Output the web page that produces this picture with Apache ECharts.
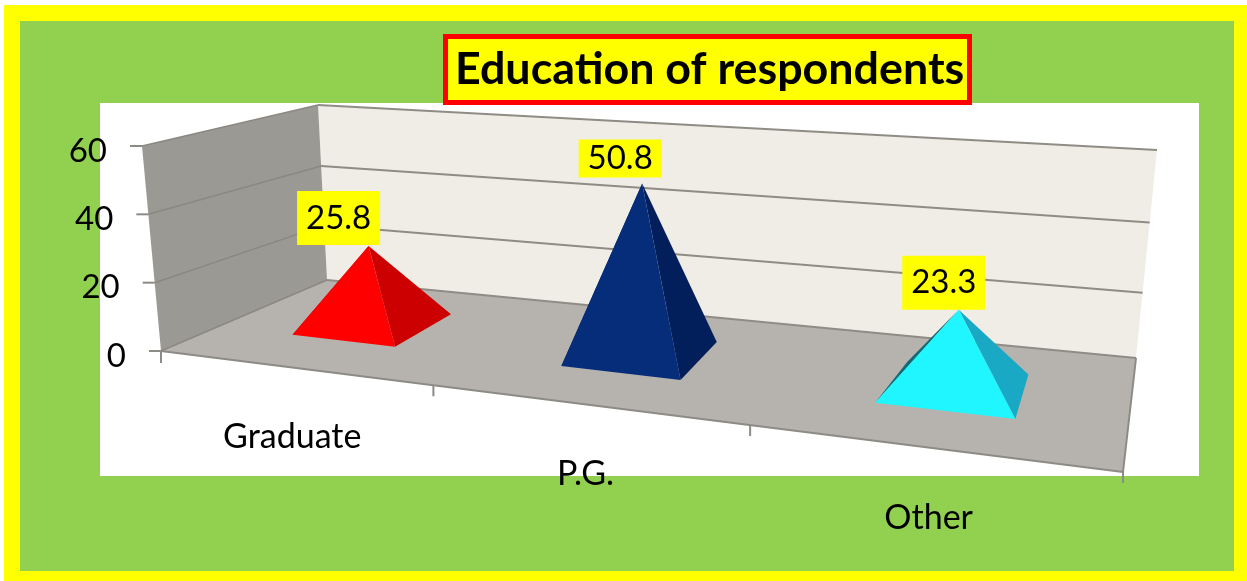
<!DOCTYPE html>
<html>
<head>
<meta charset="utf-8">
<title>Education of respondents</title>
<style>
  html, body { margin: 0; padding: 0; background: #fff; }
  #chart { width: 1247px; height: 581px; }
</style>
<script src="https://cdn.jsdelivr.net/npm/echarts@6/dist/echarts.min.js"></script>
</head>
<body>
<div id="chart"></div>
<script>
// chart data
var categories = ['Graduate', 'P.G.', 'Other'];
var values = [25.8, 50.8, 23.3];
var yTicks = [0, 20, 40, 60];

// pyramid colours, one per category
var frontColors = ['#ff0000', '#062d7a', '#1ff6ff'];
var rightColors = ['#cc0000', '#021f5c', '#19a9c4'];
var leftColors = ['#a80000', '#021f5c', '#136a75'];

// label box placement relative to the pyramid tip
var labelShiftX = [-30, -22, -15];
var labelShiftY = [-1, -6, 0];
var labelBoxH = [54, 38, 54];
var labelBoxW = 83;

// corners of the 3d box as it lands on the page
var FL = [161, 351], FR = [1123, 472], BL = [327, 280], BR = [1136, 358];
var FLt = [142, 146], FRt = [1150, 228], BLt = [318, 105], BRt = [1157, 150];

var gridLeft = 161, gridWidth = 962, gridTop = 146, gridHeight = 205;
var pyramidHalf = 0.0665;   // half base width, in x axis fraction
var depthNear = 0.35, depthFar = 0.76, depthTip = 0.55;
var textFont = '33px Lato';

function lerp(a, b, t) {
  return [a[0] + (b[0] - a[0]) * t, a[1] + (b[1] - a[1]) * t];
}
// the picture has perspective: the x axis gets wider to the right
function warp(u) {
  return 0.79 * u / (1 - 0.21 * u);
}
// u: along x axis (0..1), v: depth (0..1), t: height (0..1)
function project(u, v, t) {
  var w = warp(u);
  var floor = lerp(lerp(FL, FR, w), lerp(BL, BR, w), v);
  var top = lerp(lerp(FLt, FRt, w), lerp(BLt, BRt, w), v);
  // heights squeeze a little towards the back of the box
  return lerp(floor, top, Math.pow(t, 1 + 0.056 * Math.min(v / 0.5, 1)));
}
// turn axis values to fractions with the hidden grid's scales
function xFrac(api, idx) {
  return (api.coord([idx, 0])[0] - gridLeft) / gridWidth;
}
function yFrac(api, val) {
  return (gridTop + gridHeight - api.coord([0, val])[1]) / gridHeight;
}
function poly(points, fill) {
  return { type: 'polygon', shape: { points: points }, style: { fill: fill } };
}
function line(a, b, color, width) {
  return {
    type: 'line',
    shape: { x1: a[0], y1: a[1], x2: b[0], y2: b[1] },
    style: { stroke: color, lineWidth: width }
  };
}
function text(str, x, y, align, font) {
  return {
    type: 'text',
    style: { text: str, x: x, y: y, align: align, verticalAlign: 'middle', fill: '#000', font: font || textFont }
  };
}

function renderWalls() {
  var edge = '#8d8b85';
  return {
    type: 'group',
    children: [
      poly([BLt, BRt, BR, BL], '#efede5'),
      poly([FLt, BLt, BL, FL], '#9b9993'),
      poly([FL, BL, BR, FR], '#b6b3ae'),
      line(FL, FR, edge, 2),
      line(BR, FR, edge, 2),
      line(FL, [FL[0], FL[1] + 12], edge, 2)
    ]
  };
}

function renderTick(params, api) {
  var val = api.value(1);
  var t = yFrac(api, val);
  var front = project(0, 0, t), back = project(0, 1, t), right = project(1, 1, t);
  return {
    type: 'group',
    children: [
      line(front, back, '#8a8880', 1.5),
      line(back, right, '#8f8c85', 2),
      line([front[0] - 12, front[1]], front, '#8d8b85', 2),
      text(String(val), front[0] - 35, front[1] + 5, 'right')
    ]
  };
}

function renderCategory(params, api) {
  var i = api.value(0);
  var p = project(xFrac(api, i), 0, 0);
  // tick at the right end of this category's band
  var e = project((i + 1) / categories.length, 0, 0);
  return {
    type: 'group',
    children: [
      line(e, [e[0], e[1] + 11], '#8d8b85', 2),
      text(categories[i], p[0], p[1] + 70, 'center', '34px Lato')
    ]
  };
}

function renderPyramid(params, api) {
  var i = api.value(0);
  var u = xFrac(api, i);
  var t = yFrac(api, api.value(1));
  var fl = project(u - pyramidHalf, depthNear, 0);
  var fr = project(u + pyramidHalf, depthNear, 0);
  var br = project(u + pyramidHalf, depthFar, 0);
  // back corner pulled in a bit, only the thin strip on Other shows it
  var bl = project(u - pyramidHalf * 0.85, depthFar, 0);
  var tip = project(u, depthTip, t);
  var bx = tip[0] + labelShiftX[i], bottom = tip[1] + labelShiftY[i];
  return {
    type: 'group',
    children: [
      poly([fl, bl, tip], leftColors[i]),
      poly([fr, br, tip], rightColors[i]),
      poly([fl, fr, tip], frontColors[i]),
      {
        type: 'rect',
        shape: { x: bx - labelBoxW / 2, y: bottom - labelBoxH[i], width: labelBoxW, height: labelBoxH[i] },
        style: { fill: '#ffff00' }
      },
      text(String(api.value(1)), bx, bottom - labelBoxH[i] / 2, 'center')
    ]
  };
}

var myChart = echarts.init(document.getElementById('chart'));
var option = {
  animation: false,
  title: {
    text: 'Education of respondents',
    left: 445,
    top: 36,
    padding: [11, 5, 11, 10],
    backgroundColor: '#ffff00',
    borderColor: '#ff0000',
    borderWidth: 5,
    textStyle: { fontFamily: 'Lato', fontWeight: 'bold', fontSize: 44.8, color: '#000' }
  },
  graphic: [
    { type: 'rect', z: -3, shape: { x: 4, y: 5, width: 1243, height: 576 }, style: { fill: '#ffff00' } },
    { type: 'rect', z: -2, shape: { x: 20, y: 21, width: 1214, height: 550 }, style: { fill: '#92d14f' } },
    { type: 'rect', z: -1, shape: { x: 100, y: 103, width: 1099, height: 373 }, style: { fill: '#ffffff' } }
  ],
  grid: { left: gridLeft, top: gridTop, width: gridWidth, height: gridHeight },
  xAxis: { type: 'category', data: categories, show: false },
  yAxis: { type: 'value', min: 0, max: 60, interval: 20, show: false },
  series: [
    { type: 'custom', silent: true, renderItem: renderWalls, data: [[0, 0]] },
    { type: 'custom', silent: true, renderItem: renderTick, data: yTicks.map(function (t) { return [0, t]; }) },
    { type: 'custom', silent: true, renderItem: renderCategory, data: categories.map(function (c, i) { return [i, 0]; }) },
    { type: 'custom', silent: true, renderItem: renderPyramid, data: values.map(function (v, i) { return [i, v]; }) }
  ]
};
myChart.setOption(option);
</script>
</body>
</html>
